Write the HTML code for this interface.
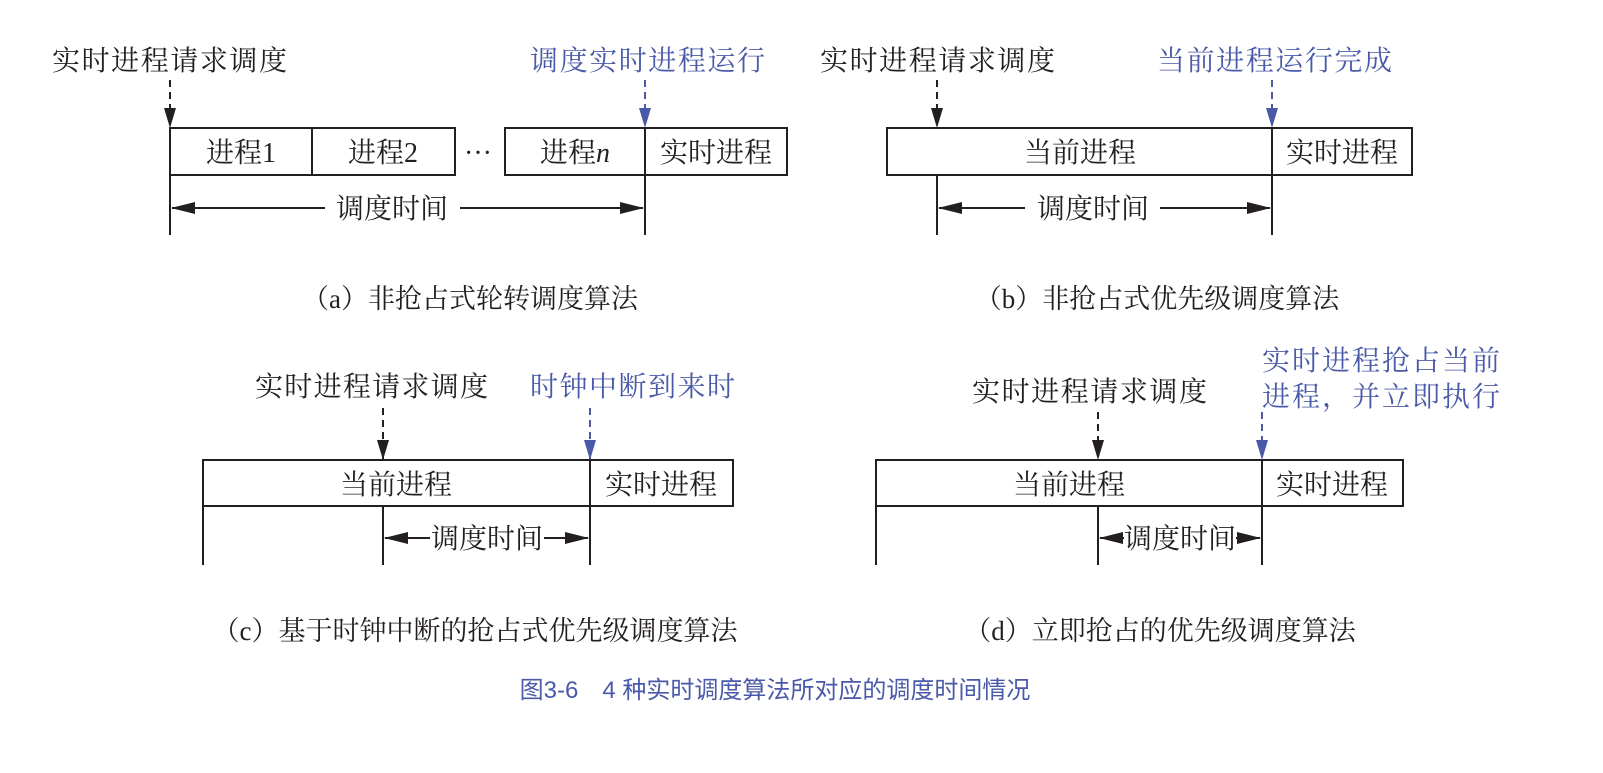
<!DOCTYPE html>
<html><head><meta charset="utf-8"><style>
html,body{margin:0;padding:0;background:#fff;}
svg{display:block}
text{font-family:"Liberation Serif","Noto Serif CJK SC",serif;font-size:28px;fill:#231f20;}
.b{fill:#4a5aa8}
.cap{font-size:27px}
.t{font-family:"Liberation Sans","Noto Sans CJK SC",sans-serif;font-size:24px;fill:#4a5aa8}
</style></head><body>
<svg width="1603" height="773" viewBox="0 0 1603 773" xmlns="http://www.w3.org/2000/svg">
<defs>
<marker id="ak" markerWidth="12" markerHeight="20" refX="6" refY="19" orient="0" markerUnits="userSpaceOnUse"><path d="M0,0 L12,0 L6,20Z" fill="#231f20"/></marker>
<marker id="ab" markerWidth="12" markerHeight="20" refX="6" refY="19" orient="0" markerUnits="userSpaceOnUse"><path d="M0,0 L12,0 L6,20Z" fill="#4a5aa8"/></marker>
<marker id="h" markerWidth="24" markerHeight="12" refX="23" refY="6" orient="auto" markerUnits="userSpaceOnUse"><path d="M0,0 L24,6 L0,12Z" fill="#231f20"/></marker>
</defs>
<g stroke="#231f20" stroke-width="2" fill="none">
<!-- (a) -->
<rect x="170" y="128" width="142" height="47"/><rect x="312" y="128" width="143" height="47"/>
<rect x="505" y="128" width="140" height="47"/><rect x="645" y="128" width="142" height="47"/>
<line x1="170" y1="175" x2="170" y2="235"/><line x1="645" y1="175" x2="645" y2="235"/>
<line x1="325" y1="208" x2="172" y2="208" marker-end="url(#h)"/><line x1="460" y1="208" x2="643" y2="208" marker-end="url(#h)"/>
<line x1="170" y1="80" x2="170" y2="127" stroke-dasharray="7,5" marker-end="url(#ak)"/>
<line x1="645" y1="80" x2="645" y2="127" stroke="#4a5aa8" stroke-dasharray="7,5" marker-end="url(#ab)"/>
<!-- (b) -->
<rect x="887" y="128" width="385" height="47"/><rect x="1272" y="128" width="140" height="47"/>
<line x1="937" y1="175" x2="937" y2="235"/><line x1="1272" y1="175" x2="1272" y2="235"/>
<line x1="1025" y1="208" x2="939" y2="208" marker-end="url(#h)"/><line x1="1160" y1="208" x2="1270" y2="208" marker-end="url(#h)"/>
<line x1="937" y1="80" x2="937" y2="127" stroke-dasharray="7,5" marker-end="url(#ak)"/>
<line x1="1272" y1="80" x2="1272" y2="127" stroke="#4a5aa8" stroke-dasharray="7,5" marker-end="url(#ab)"/>
<!-- (c) -->
<rect x="203" y="460" width="387" height="46"/><rect x="590" y="460" width="143" height="46"/>
<line x1="203" y1="506" x2="203" y2="565"/><line x1="383" y1="506" x2="383" y2="565"/><line x1="590" y1="506" x2="590" y2="565"/>
<line x1="430" y1="538" x2="385" y2="538" marker-end="url(#h)"/><line x1="544" y1="538" x2="588" y2="538" marker-end="url(#h)"/>
<line x1="383" y1="408" x2="383" y2="459" stroke-dasharray="7,5" marker-end="url(#ak)"/>
<line x1="590" y1="408" x2="590" y2="459" stroke="#4a5aa8" stroke-dasharray="7,5" marker-end="url(#ab)"/>
<!-- (d) -->
<rect x="876" y="460" width="386" height="46"/><rect x="1262" y="460" width="141" height="46"/>
<line x1="876" y1="506" x2="876" y2="565"/><line x1="1098" y1="506" x2="1098" y2="565"/><line x1="1262" y1="506" x2="1262" y2="565"/>
<line x1="1124" y1="538" x2="1100" y2="538" marker-end="url(#h)"/><line x1="1236" y1="538" x2="1260" y2="538" marker-end="url(#h)"/>
<line x1="1098" y1="412" x2="1098" y2="459" stroke-dasharray="7,5" marker-end="url(#ak)"/>
<line x1="1262" y1="412" x2="1262" y2="459" stroke="#4a5aa8" stroke-dasharray="7,5" marker-end="url(#ab)"/>
</g>
<!-- texts (a) -->
<text x="52" y="70" textLength="235">实时进程请求调度</text>
<text class="b" x="530" y="70" textLength="235">调度实时进程运行</text>
<text x="241" y="162" text-anchor="middle">进程1</text>
<text x="383" y="162" text-anchor="middle">进程2</text>
<text x="478" y="162" text-anchor="middle">···</text>
<text x="575" y="162" text-anchor="middle">进程<tspan font-style="italic">n</tspan></text>
<text x="716" y="162" text-anchor="middle">实时进程</text>
<text x="392" y="218" text-anchor="middle">调度时间</text>
<text class="cap" x="470" y="308" text-anchor="middle">（a）非抢占式轮转调度算法</text>
<!-- (b) -->
<text x="820" y="70" textLength="235">实时进程请求调度</text>
<text class="b" x="1157" y="70" textLength="235">当前进程运行完成</text>
<text x="1080" y="162" text-anchor="middle">当前进程</text>
<text x="1342" y="162" text-anchor="middle">实时进程</text>
<text x="1093" y="218" text-anchor="middle">调度时间</text>
<text class="cap" x="1157" y="308" text-anchor="middle">（b）非抢占式优先级调度算法</text>
<!-- (c) -->
<text x="255" y="396" textLength="233">实时进程请求调度</text>
<text class="b" x="530" y="396" textLength="205">时钟中断到来时</text>
<text x="396" y="494" text-anchor="middle">当前进程</text>
<text x="661" y="494" text-anchor="middle">实时进程</text>
<text x="487" y="548" text-anchor="middle">调度时间</text>
<text class="cap" x="475" y="640" text-anchor="middle">（c）基于时钟中断的抢占式优先级调度算法</text>
<!-- (d) -->
<text x="972" y="401" textLength="235">实时进程请求调度</text>
<text class="b" x="1262" y="370" textLength="238">实时进程抢占当前</text>
<text class="b" x="1262" y="406" textLength="238">进程，并立即执行</text>
<text x="1069" y="494" text-anchor="middle">当前进程</text>
<text x="1332" y="494" text-anchor="middle">实时进程</text>
<text x="1180" y="548" text-anchor="middle">调度时间</text>
<text class="cap" x="1160" y="640" text-anchor="middle">（d）立即抢占的优先级调度算法</text>
<text class="t" x="775" y="698" text-anchor="middle">图3-6　4 种实时调度算法所对应的调度时间情况</text>
</svg>
</body></html>
